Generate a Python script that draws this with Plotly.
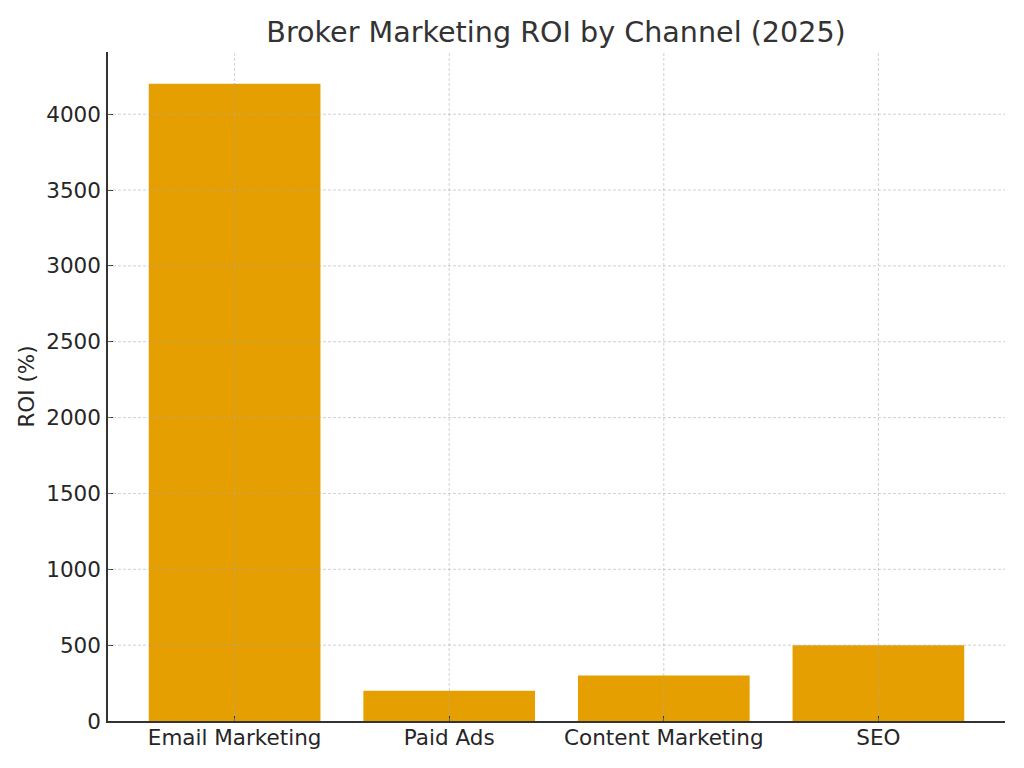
import plotly.graph_objects as go

channels = ["Email Marketing", "Paid Ads", "Content Marketing", "SEO"]
roi = [4200, 200, 300, 500]
y_ticks = [0, 500, 1000, 1500, 2000, 2500, 3000, 3500, 4000]

BAR_COLOR = "#E69F00"
GRID = "rgba(170,170,170,0.55)"
TEXT = "#262626"

fig = go.Figure(go.Bar(
    x=list(range(len(channels))), y=roi,
    width=0.8, marker=dict(color=BAR_COLOR, line=dict(width=0)),
))

# matplotlib draws the grid over the bars, so put it in as shapes on top
grid = []
for t in y_ticks[1:]:
    grid.append(dict(type="line", xref="paper", x0=0, x1=1, yref="y", y0=t, y1=t,
                     line=dict(color=GRID, width=1, dash="3px,2px"), layer="above"))
for i in range(len(channels)):
    grid.append(dict(type="line", xref="x", x0=i, x1=i, yref="paper", y0=0, y1=1,
                     line=dict(color=GRID, width=1, dash="3px,2px"), layer="above"))

# page has an 8px body margin, so the figure is a bit smaller than the window
fig.update_layout(
    width=1008, height=752,
    margin=dict(l=100, r=11, t=44, b=39),
    paper_bgcolor="white", plot_bgcolor="white",
    font=dict(family="DejaVu Sans", color=TEXT, size=21),
    title=dict(text="Broker Marketing ROI by Channel (2025)", x=0.5437, xanchor="center",
               y=1 - 24 / 752, yanchor="middle", font=dict(size=28.6, color="#333333")),
    shapes=grid,
    showlegend=False,
)
fig.update_xaxes(
    range=[-0.59, 3.59], tickvals=list(range(len(channels))), ticktext=channels,
    showgrid=False, zeroline=False, showline=True, linecolor="#333333", linewidth=1.5,
    ticks="inside", ticklen=5, tickcolor="#333333", tickfont=dict(size=21.5),
    ticklabelstandoff=-4, automargin=False,
)
fig.update_yaxes(
    range=[0, 4410], tickvals=y_ticks, showgrid=False, zeroline=False,
    showline=True, linecolor="#333333", linewidth=1.5,
    ticks="inside", ticklen=5, tickcolor="#333333", tickfont=dict(size=21.5),
    ticklabelstandoff=1, automargin=False,
    title=dict(text="ROI (%)", font=dict(size=21.5), standoff=6),
)

fig.write_html("out.html")
